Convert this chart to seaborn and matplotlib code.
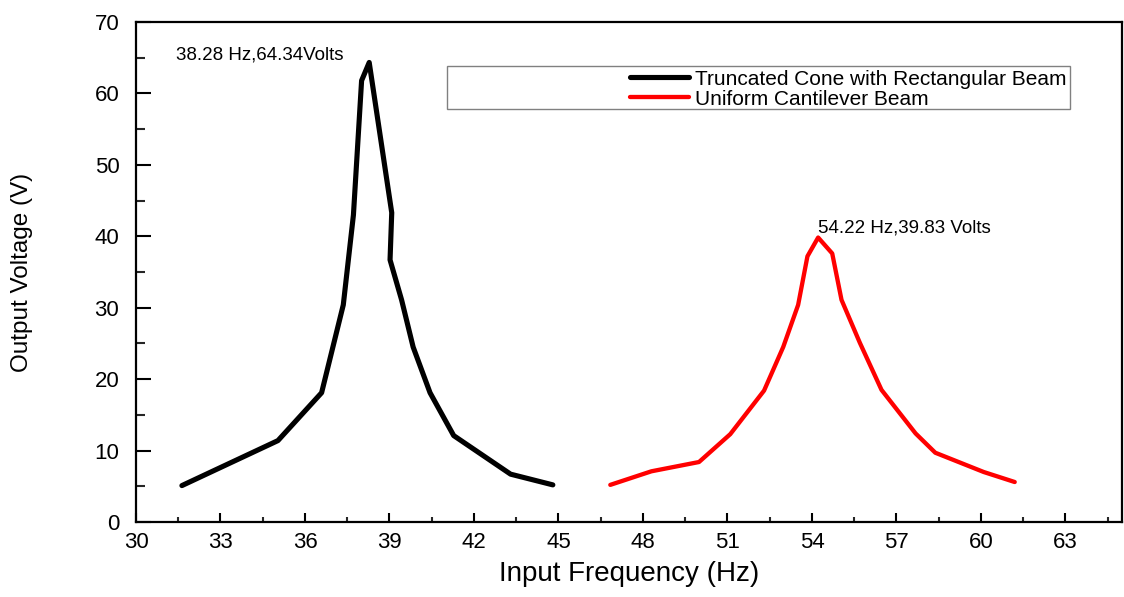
import numpy as np
import pandas as pd
import matplotlib
matplotlib.use("Agg")
import matplotlib.pyplot as plt
import seaborn as sns
from matplotlib.patches import Rectangle
from matplotlib import font_manager

# ---- data ----
black_freq = [31.63, 35.04, 36.59, 37.36, 37.72, 38.01, 38.28, 39.08, 39.02, 39.43, 39.84, 40.44, 41.28, 43.30, 44.80]
black_volt = [5.1, 11.4, 18.1, 30.4, 43.0, 61.8, 64.34, 43.3, 36.7, 31.1, 24.5, 18.1, 12.1, 6.7, 5.2]
red_freq = [46.84, 48.30, 49.99, 51.10, 52.30, 52.98, 53.51, 53.84, 54.22, 54.72, 55.05, 55.70, 56.47, 57.68, 58.38, 60.10, 61.20]
red_volt = [5.2, 7.1, 8.4, 12.3, 18.4, 24.5, 30.4, 37.2, 39.83, 37.6, 31.1, 25.1, 18.5, 12.4, 9.7, 7.0, 5.6]
series_names = ["Truncated Cone with Rectangular Beam", "Uniform Cantilever Beam"]
annotations = ["38.28 Hz,64.34Volts", "54.22 Hz,39.83 Volts"]
x_label = "Input Frequency (Hz)"
y_label = "Output Voltage (V)"

sns.set_theme(style="white")
plt.rcParams['font.family'] = ['Liberation Sans', 'DejaVu Sans']
available = {f.name for f in font_manager.fontManager.ttflist}
narrow = 'Liberation Sans Narrow' if 'Liberation Sans Narrow' in available else 'Liberation Sans'
ylab_size = 20 if narrow == 'Liberation Sans Narrow' else 17.5

df_black = pd.DataFrame({"freq": black_freq, "volt": black_volt, "series": series_names[0]})
df_red = pd.DataFrame({"freq": red_freq, "volt": red_volt, "series": series_names[1]})

fig = plt.figure(figsize=(11.24, 5.97), dpi=100)
ax = fig.add_axes([0.121, 0.1256, 0.877, 0.8375])

sns.lineplot(data=df_black, x="freq", y="volt", color="black", lw=3.7,
             estimator=None, sort=False, label=series_names[0], ax=ax)
sns.lineplot(data=df_red, x="freq", y="volt", color="#ff0000", lw=3.1,
             estimator=None, sort=False, label=series_names[1], ax=ax)

ax.set_xlim(30, 65)
ax.set_ylim(0, 70)
ax.set_xticks(np.arange(30, 64, 3))
ax.set_xticks(np.arange(31.5, 65, 3), minor=True)
ax.set_yticks(np.arange(0, 71, 10))
ax.set_yticks(np.arange(5, 70, 10), minor=True)

ax.tick_params(axis='x', which='major', direction='in', length=6.5, width=1.5, pad=7,
               labelsize=16, colors='black', bottom=True, top=False)
ax.tick_params(axis='x', which='minor', direction='in', length=3.5, width=1.5,
               bottom=True, top=False)
ax.tick_params(axis='y', which='major', direction='in', length=11, width=1.5, pad=12,
               labelsize=16, colors='black', left=True, right=False)
ax.tick_params(axis='y', which='minor', direction='in', length=6.5, width=1.5,
               left=True, right=False)

for s in ax.spines.values():
    s.set_visible(True)
    s.set_color('black')
    s.set_linewidth(1.6)

ax.set_xlabel(x_label, fontsize=20, labelpad=6, color='black')
ax.set_ylabel(y_label, fontsize=ylab_size, family=[narrow, 'DejaVu Sans'], labelpad=44, color='black')

ax.text(31.42, 64.7, annotations[0], fontsize=13.5, ha='left', va='baseline', color='black')
ax.text(54.2, 40.6, annotations[1], fontsize=13.5, ha='left', va='baseline', color='black')

leg = ax.legend(loc='upper right', bbox_to_anchor=(0.948, 0.913), frameon=False,
                fontsize=15, handlelength=2.8, handletextpad=0.3, labelspacing=0.05,
                borderaxespad=0, borderpad=0.2)
for t in leg.get_texts():
    t.set_color('black')
ax.add_patch(Rectangle((0.3154, 0.826), 0.6326, 0.086, transform=ax.transAxes,
                       fill=False, edgecolor='#808080', lw=1.0, zorder=5))

fig.savefig("out.png", dpi=100)
